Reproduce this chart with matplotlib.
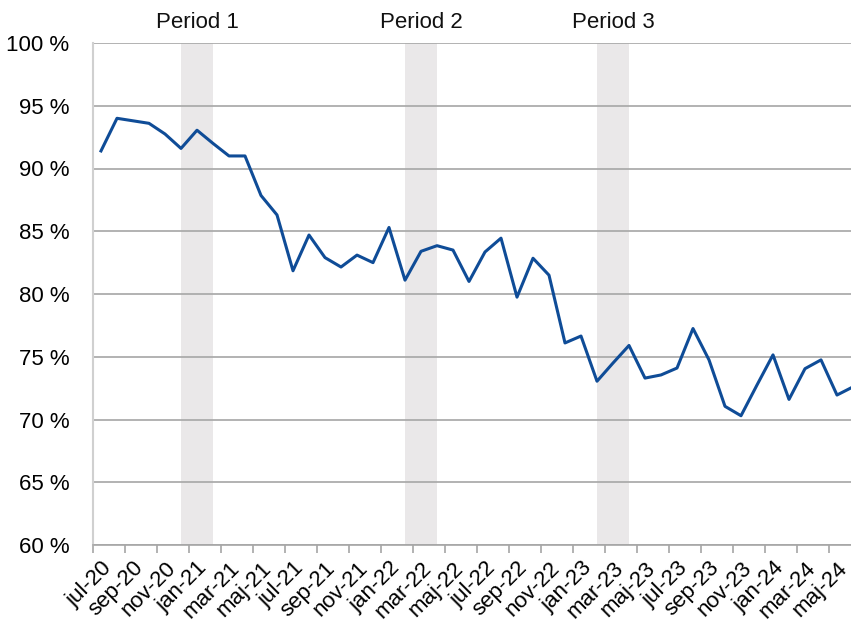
import numpy as np
import matplotlib.pyplot as plt

plt.rcParams['font.family'] = ['Liberation Sans', 'DejaVu Sans']

# monthly values, jul-20 .. jun-24 (percent)
months = ["jan", "feb", "mar", "apr", "maj", "jun", "jul", "aug", "sep", "okt", "nov", "dec"]
month_labels = []
for k in range(48):
    m = (6 + k) % 12
    y = 20 + (6 + k) // 12
    month_labels.append(f"{months[m]}-{y}")

values = [91.4, 94.0, 93.8, 93.6, 92.75, 91.6, 93.05, 92.0, 91.0, 91.0,
          87.85, 86.3, 81.85, 84.7, 82.9, 82.15, 83.1, 82.5, 85.3, 81.1,
          83.4, 83.85, 83.5, 81.0, 83.35, 84.45, 79.75, 82.85, 81.5, 76.1,
          76.65, 73.05, 74.5, 75.9, 73.3, 73.55, 74.1, 77.25, 74.75, 71.05,
          70.3, 72.75, 75.15, 71.6, 74.05, 74.75, 71.95, 72.6]

# shaded periods: (start index, end index, label)
periods = [(5, 7, "Period 1"), (19, 21, "Period 2"), (31, 33, "Period 3")]

fig = plt.figure(figsize=(8.51, 6.24), dpi=100)
ax = fig.add_axes([93 / 851, 1 - 545 / 624, 1 - 93 / 851, 502 / 624])

x = np.arange(len(values))
for start, end, label in periods:
    ax.axvspan(start, end, color='#eae8e9', lw=0, zorder=0)
    ax.text((start + end) / 2, 1.02, label, transform=ax.get_xaxis_transform(),
            ha='center', va='bottom', fontsize=16, color='#111111')

ax.plot(x, values, color='#0f4c97', lw=2.2, zorder=3, clip_on=False)

ax.set_ylim(60, 100)
ax.set_yticks(np.arange(60, 101, 5))
ax.set_yticklabels([f"{v} %" for v in range(60, 101, 5)], fontsize=16)
ax.set_xlim(-0.5, 46.875)

# labels centred on categories, tick marks on boundaries
ax.set_xticks(x[::2])
ax.set_xticklabels(month_labels[::2], rotation=45, ha='right', rotation_mode='anchor', fontsize=16)
ax.set_xticks(np.arange(-0.5, 47, 2), minor=True)
ax.tick_params(axis='x', which='major', length=0, pad=9)
ax.tick_params(axis='x', which='minor', length=6, color='#a6a6a6', width=1.2)
ax.tick_params(axis='y', length=0, pad=17)

ax.grid(axis='y', color='#a6a6a6', lw=1.2, zorder=1)
ax.set_axisbelow(True)
for side in ['top', 'right']:
    ax.spines[side].set_visible(False)
ax.spines['left'].set_color('#d0d0d0')
ax.spines['left'].set_linewidth(1.5)
ax.spines['bottom'].set_color('#a6a6a6')
ax.spines['bottom'].set_linewidth(1.2)

fig.savefig("out.png", dpi=100)
